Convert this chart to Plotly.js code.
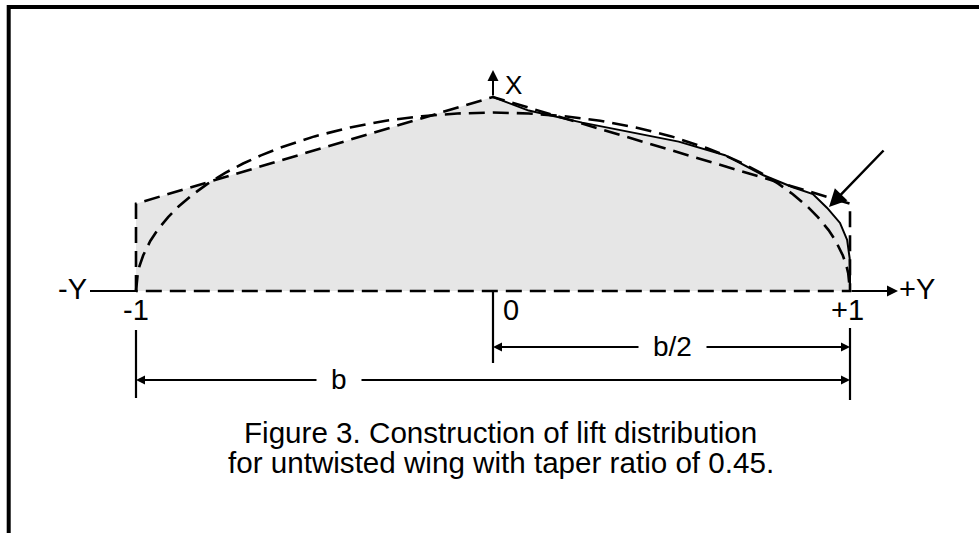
<!DOCTYPE html>
<html>
<head>
<meta charset="utf-8">
<script src="https://cdn.plot.ly/plotly-3.0.1.min.js"></script>
<style>html,body{margin:0;padding:0;background:#fff;}#chart{width:979px;height:533px;}</style>
</head>
<body>
<div id="chart"></div>
<script>
// ---- data (span in half-span units, lift relative to root) ----
const trapSpan = [-1, -1, 0, 1, 1, -1];
const trapLift = [0, 0.45, 1.0, 0.45, 0, 0];

const ellipseSpan = [-1, -0.995, -0.99, -0.98, -0.96, -0.94, -0.91, -0.88, -0.84, -0.8, -0.75, -0.7, -0.65, -0.6, -0.5, -0.4, -0.3, -0.2, -0.1, 0,
                     0.1, 0.2, 0.3, 0.4, 0.5, 0.6, 0.65, 0.7, 0.75, 0.8, 0.84, 0.88, 0.91, 0.94, 0.96, 0.98, 0.99, 0.995, 1];
const ellipseLift = [0, 0.092, 0.130, 0.183, 0.258, 0.314, 0.381, 0.437, 0.499, 0.552, 0.609, 0.657, 0.699, 0.736, 0.797, 0.843, 0.878, 0.901, 0.915, 0.92,
                     0.915, 0.901, 0.878, 0.843, 0.797, 0.736, 0.699, 0.657, 0.609, 0.552, 0.499, 0.437, 0.381, 0.314, 0.258, 0.183, 0.130, 0.092, 0];

const liftSpan = [0, 0.1, 0.25, 0.4, 0.52, 0.65, 0.756, 0.84, 0.896, 0.936, 0.972, 0.992, 0.999, 1.0, 1.0];
const liftValue = [1.0, 0.93, 0.868, 0.815, 0.77, 0.70, 0.598, 0.535, 0.50, 0.428, 0.351, 0.263, 0.17, 0.08, 0];

const tickPos = [-1, 0, 1];
const tickText = ['-1', '0', '+1'];
const captionLines = ['Figure 3. Construction of lift distribution', 'for untwisted wing with taper ratio of 0.45.'];

// ---- pixel <-> data helpers (layout only) ----
const X0 = 493, SX = 357, Y0 = 291, SY = 194;
const dx = p => (p - X0) / SX;
const dy = p => (Y0 - p) / SY;
const W = 979, H = 533;

// fill: left half follows trapezoid, right half follows lift curve
const fillX = [-1, -1].concat(liftSpan);
const fillY = [0, 0.45].concat(liftValue);

const FONT = 'Liberation Sans, Arial, Helvetica, sans-serif';
const traces = [
  {x: fillX, y: fillY, mode: 'lines', fill: 'toself', fillcolor: '#e6e6e6', line: {width: 0, color: 'rgba(0,0,0,0)'}, hoverinfo: 'skip'},
  {x: liftSpan, y: liftValue, mode: 'lines', line: {color: '#000', width: 2}, hoverinfo: 'skip'},
  {x: ellipseSpan, y: ellipseLift, mode: 'lines', line: {color: '#000', width: 2.6, dash: '16px,8px'}, hoverinfo: 'skip'},
  {x: trapSpan, y: trapLift, mode: 'lines', line: {color: '#000', width: 2.6, dash: '16px,8px'}, hoverinfo: 'skip'}
];

function arrow(x1, y1, x2, y2, w, size) {
  return {x: dx(x2), y: dy(y2), ax: dx(x1), ay: dy(y1), xref: 'x', yref: 'y', axref: 'x', ayref: 'y',
          text: '', showarrow: true, arrowhead: 2, arrowsize: size || 1, arrowwidth: w || 2, arrowcolor: '#000', standoff: 0, startstandoff: 0};
}
function label(txt, px, py, size, xanchor) {
  return {x: dx(px), y: dy(py), xref: 'x', yref: 'y', text: txt, showarrow: false,
          xanchor: xanchor || 'center', yanchor: 'middle', font: {family: FONT, size: size, color: '#000'}};
}

const annotations = [
  arrow(850, 291, 898, 291, 2, 1.1),
  arrow(493, 97, 493, 70, 2, 1.1),
  arrow(885, 149, 829, 207, 2.5, 1.4),
  arrow(640, 347, 493, 347, 2, 0.9),
  arrow(705, 347, 850, 347, 2, 0.9),
  arrow(318, 380, 136, 380, 2, 0.9),
  arrow(360, 380, 850, 380, 2, 0.9),
  label('-Y', 72, 289, 29),
  label('+Y', 897, 289, 29, 'left'),
  label('X', 513, 85, 26),
  label('b/2', 672, 346, 28),
  label('b', 339, 379, 28),
  label(captionLines[0], 500, 432, 29.6),
  label(captionLines[1], 501, 462, 29.6)
];
tickPos.forEach((v, i) => {
  const a = label(tickText[i], X0 + v * SX, 310, 29);
  a.x = v === 0 ? dx(511) : v === 1 ? dx(847) : v;
  annotations.push(a);
});

const L = (x1, y1, x2, y2, w) => ({type: 'line', xref: 'x', yref: 'y', x0: dx(x1), y0: dy(y1), x1: dx(x2), y1: dy(y2), line: {color: '#000', width: w || 2}});
const shapes = [
  L(90, 291, 136, 291, 2),
  L(136, 330, 136, 398, 2.2),
  L(493, 291, 493, 363, 2.2),
  L(850, 328, 850, 400, 2.2),
  {type: 'path', xref: 'paper', yref: 'paper', path: 'M ' + (8.7 / W) + ' 0 L ' + (8.7 / W) + ' ' + (1 - 7 / H) + ' L 1 ' + (1 - 7 / H),
   line: {color: '#000', width: 4}}
];

const layout = {
  width: W, height: H, margin: {l: 0, r: 0, t: 0, b: 0},
  paper_bgcolor: '#fff', plot_bgcolor: '#fff', showlegend: false,
  xaxis: {range: [dx(0), dx(W)], visible: false, fixedrange: true},
  yaxis: {range: [dy(H), dy(0)], visible: false, fixedrange: true},
  annotations: annotations, shapes: shapes
};
Plotly.newPlot('chart', traces, layout, {staticPlot: true, displayModeBar: false});
</script>
</body>
</html>
